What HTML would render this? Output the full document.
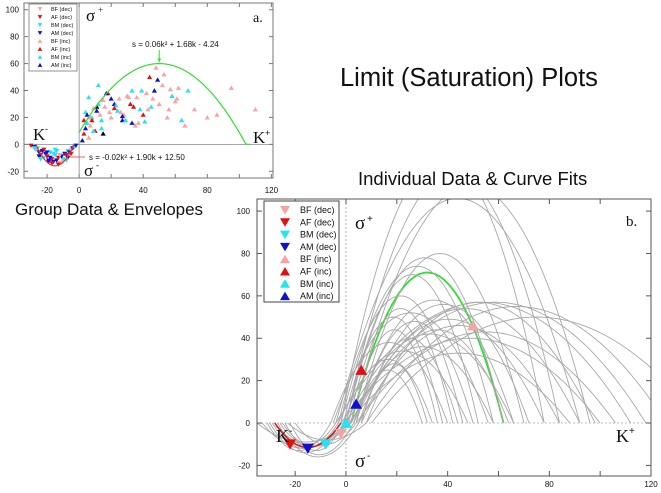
<!DOCTYPE html>
<html><head><meta charset="utf-8">
<style>
body{margin:0;background:#fff;width:661px;height:493px;overflow:hidden;font-family:"Liberation Sans",sans-serif}
svg{position:absolute;left:0;top:0}
.t{position:absolute;white-space:nowrap;color:#111}
</style></head><body>
<div class="t" style="left:340px;top:64px;font-size:25.5px;">Limit (Saturation) Plots</div>
<div class="t" style="left:358px;top:168px;font-size:18.5px;">Individual Data &amp; Curve Fits</div>
<div class="t" style="left:15px;top:200px;font-size:17px;">Group Data &amp; Envelopes</div>
<svg id="s" width="661" height="493"></svg>
<script>
// ---- Chart a data ----
const aTypes=["BF (dec)","AF (dec)","BM (dec)","AM (dec)","BF (inc)","AF (inc)","BM (inc)","AM (inc)"];
const aK=[-30,-28,-27,-26,-25,-24,-23,-22,-21,-20,-19,-18,-17,-16,-15,-14,-13,-12,-11,-10,-9,-8,-7,-6,-5,-4,-3,-2,-28,-25,-22,-19,-16,-13,-10,-7,-24,-20,-17,-14,-11,-8,-5,-18,-15,-12,
2,3,4,5,6,3,4,5,7,8,9,10,11,12,6,7,8,13,14,15,16,18,20,22,24,25,27,28,30,32,33,35,36,38,40,42,44,45,46,47,48,50,52,55,56,58,60,62,64,66,68,72,80,86,95,110,12,17,20,23,26,29,31,34,37,39,41,43,49,53,57,61,14,19,22,27,33,9,11,15];
const aS=[-1,-2,-4,-3,-6,-8,-5,-10,-7,-9,-12,-6,-11,-13,-8,-12,-10,-14,-9,-11,-7,-8,-5,-6,-4,-3,-2,-1,-3,-9,-4,-13,-7,-15,-13,-10,-11,-6,-14,-5,-9,-12,-7,-10,-4,-8,
3,8,12,16,5,18,24,22,14,20,27,10,25,30,35,20,18,22,12,33,28,38,20,30,25,34,18,22,36,30,40,14,35,26,22,38,50,28,34,40,57,30,44,20,26,36,32,42,18,14,40,26,20,22,42,26,44,38,34,29,24,18,35,28,16,40,17,26,48,52,41,34,18,24,27,21,16,10,28,8];
const aT=[1,3,0,2,3,1,3,2,3,1,3,2,1,3,2,3,1,0,3,2,3,1,2,3,0,3,2,3,2,3,1,3,2,1,0,3,2,3,1,2,3,2,1,3,2,0,
7,5,7,6,4,5,6,7,4,6,4,5,7,6,6,4,5,4,6,4,4,5,4,7,6,4,7,4,4,5,6,4,4,6,5,4,5,6,4,7,4,4,4,4,4,6,4,4,6,4,6,4,4,4,4,4,6,7,7,6,4,6,4,5,4,6,6,4,7,4,4,4,6,4,5,7,7,6];
// ---- Chart b data ----
const bArchLeft=[2,-2,0,2,-4,4,0,-2,0,-3,1,-1,2,3,5,-5,4,6,-6,8,0,2,-3,-1,3,5,2,6,-4,0,8,10,4,-2,1,6,3];
const bArchRight=[62,78,84,96,92,70,62,58,52,46,42,38,36,66,72,56,50,44,40,64,66,58,48,34,78,84,92,98,112,118,126,140,106,100,88,32,30];
const bArchPeak=[71,125,118,112,106,80,78,74,70,60,54,50,44,58,56,52,48,40,38,44,42,36,34,30,49,46,54,57,57,57,55,50,43,40,33,28,25];
const bTroughL=[-33,-30,-28,-26,-24,-35,-22,-27,-29,-25,-20,-31,-23];
const bTroughR=[0,-2,1,-4,3,2,-1,5,-3,0,4,-6,8];
const bTroughMin=[-12,-14,-11,-10,-15,-9,-13,-16,-12,-11,-10,-13,-8];
const bMarkK=[-22,-15,-8,-2,0,4,6,50];
const bMarkS=[-10,-12,-10,-5,0,9,25,46];
const bMarkT=[1,3,2,0,6,7,5,4];
const cols=["#f5a3a3","#e41010","#22e5ef","#1010d0","#f5a3a3","#e41010","#22e5ef","#1010d0"];

const NS="http://www.w3.org/2000/svg",svg=document.getElementById('s');
function mk(tag,at,parent){const e=document.createElementNS(NS,tag);for(const k in at)e.setAttribute(k,at[k]);(parent||svg).appendChild(e);return e;}
function txt(x,y,s,size,anchor,name,fam){const e=mk('text',{x:x,y:y,'font-size':size,'text-anchor':anchor||'start','font-family':fam||'"Liberation Sans",sans-serif',fill:'#111'});e.textContent=s;


return e;}
function tri(x,y,r,down,c,name){const p=down?`${x-r},${y-r*0.8} ${x+r},${y-r*0.8} ${x},${y+r*0.9}`:`${x-r},${y+r*0.8} ${x+r},${y+r*0.8} ${x},${y-r*0.9}`;const e=mk('polygon',{points:p,fill:c});


return e;}

// ===== Chart a =====
const A={l:24,r:273,t:3,b:178,x0:-34.4,x1:121,y0:-25,y1:105};
const ax=k=>A.l+(k-A.x0)/(A.x1-A.x0)*(A.r-A.l), ay=s=>A.b-(s-A.y0)/(A.y1-A.y0)*(A.b-A.t);
let fa=mk('rect',{x:A.l,y:A.t,width:A.r-A.l,height:A.b-A.t,fill:'none',stroke:'#777'});

mk('line',{x1:ax(0),x2:ax(0),y1:A.t,y2:A.b,stroke:'#888','stroke-width':0.8});
mk('line',{x1:A.l,x2:A.r,y1:ay(0),y2:ay(0),stroke:'#888','stroke-width':0.8});
[-20,0,20,40,60,80,100,120].forEach(v=>{mk('line',{x1:ax(v),x2:ax(v),y1:A.b,y2:A.b-4,stroke:'#777'});mk('line',{x1:ax(v),x2:ax(v),y1:A.t,y2:A.t+4,stroke:'#777'});});
[-20,0,20,40,60,80,100].forEach(v=>{mk('line',{x1:A.l,x2:A.l+4,y1:ay(v),y2:ay(v),stroke:'#777'});mk('line',{x1:A.r,x2:A.r-4,y1:ay(v),y2:ay(v),stroke:'#777'});txt(A.l-5,ay(v)+3,String(v),8,'end','chart-a-y-tick');});
[-20,0,40,80,120].forEach(v=>txt(ax(v),193,String(v),8,'middle','chart-a-x-tick'));
aK.forEach((k,i)=>{const t=aT[i];tri(ax(k),ay(aS[i]),2.6,t<4,cols[t],'chart-a-point');});
let d='';for(let k=0;k<=107;k+=1){const s=-0.0205*(k-50)*(k-50)+60;d+=(d?'L':'M')+ax(k).toFixed(1)+','+ay(Math.max(s,0)).toFixed(1);}
let g=mk('path',{d:d,fill:'none',stroke:'#33dd33','stroke-width':1.2});
d='';for(let k=-27;k<=-3;k+=0.5){const s=-16+16*Math.pow((k+15)/12,2);d+=(d?'L':'M')+ax(k).toFixed(1)+','+ay(Math.min(s,0)).toFixed(1);}
let rr=mk('path',{d:d,fill:'none',stroke:'#e03030','stroke-width':1.1});
mk('line',{x1:ax(50),x2:ax(50),y1:50,y2:ay(61),stroke:'#33dd33'});tri(ax(50),ay(61)-2,2,true,'#33dd33','eq-arrow-head');
mk('line',{x1:85,x2:ax(-8),y1:157,y2:157,stroke:'#e03030','stroke-width':0.7});
txt(132,47,'s = 0.06k² + 1.68k  - 4.24',8,'start','upper-equation');
txt(89,160,'s = -0.02k² + 1.90k + 12.50',8,'start','lower-equation');
txt(86,21,'σ',17,'start','sigma-plus-a','"Liberation Serif",serif');txt(98,13,'+',9,'start','sigma-plus-sup','"Liberation Serif",serif');
txt(84,176,'σ',17,'start','sigma-minus-a','"Liberation Serif",serif');txt(96,168,'-',9,'start','sigma-minus-sup','"Liberation Serif",serif');
txt(253,22,'a.',14,'start','panel-a-label','"Liberation Serif",serif');
txt(33,140,'K',17,'start','k-minus-a','"Liberation Serif",serif');txt(45,132,'-',9,'start','k-minus-sup');
txt(253,143,'K',17,'start','k-plus-a','"Liberation Serif",serif');txt(265,136,'+',9,'start','k-plus-sup');
let la=mk('rect',{x:29,y:4,width:48,height:67,fill:'#fff',stroke:'#666','stroke-width':0.7});
aTypes.forEach((n,i)=>{const y=11+i*8;tri(40,y-2,2.3,i<4,cols[i],'legend-a-marker');txt(51,y,n,5.5,'start','legend-a-entry');});

// ===== Chart b =====
const B={l:257,r:651,t:199,b:476,x0:-35,x1:120,y0:-25,y1:105.7};
const bx=k=>B.l+(k-B.x0)/(B.x1-B.x0)*(B.r-B.l), by=s=>B.b-(s-B.y0)/(B.y1-B.y0)*(B.b-B.t);
mk('clipPath',{id:'cb'});mk('rect',{x:B.l,y:B.t,width:B.r-B.l,height:B.b-B.t},svg.lastChild);
mk('line',{x1:bx(0),x2:bx(0),y1:B.t,y2:B.b,stroke:'#999','stroke-dasharray':'2,2','stroke-width':0.8});
mk('line',{x1:B.l,x2:B.r,y1:by(0),y2:by(0),stroke:'#aaa','stroke-dasharray':'2,2','stroke-width':0.8});
const gc=mk('g',{'clip-path':'url(#cb)'});
bArchLeft.forEach((L,i)=>{const R=bArchRight[i],h=bArchPeak[i],v=(L+R)/2,w=(R-L)/2;let p='';for(let j=0;j<=60;j++){const k=L+(R-L)*j/60;const s=h*(1-Math.pow((k-v)/w,2));p+=(p?'L':'M')+bx(k).toFixed(1)+','+by(s).toFixed(1);}
const e=mk('path',{d:p,fill:'none',stroke:'#a8a8a8','stroke-width':0.9},gc);


if(i===0){e.setAttribute('stroke','#33dd33');e.setAttribute('stroke-width','1.8');}});
bTroughL.forEach((L,i)=>{const R=bTroughR[i],m=bTroughMin[i],c=(L+R)/2,w=(R-L)/2;let p='';for(let j=0;j<=40;j++){const k=L+(R-L)*j/40;const s=m*(1-Math.pow((k-c)/w,2));p+=(p?'L':'M')+bx(k).toFixed(1)+','+by(s).toFixed(1);}
const e=mk('path',{d:p,fill:'none',stroke:'#a8a8a8','stroke-width':0.9},gc);

});
let rp='';for(let k=-28;k<=-2;k+=0.5){const s=-11.5*(1-Math.pow((k+15)/13,2));rp+=(rp?'L':'M')+bx(k).toFixed(1)+','+by(s).toFixed(1);}
let rc=mk('path',{d:rp,fill:'none',stroke:'#cc2020','stroke-width':1.6},gc);
bMarkK.forEach((k,i)=>{const t=bMarkT[i];tri(bx(k),by(bMarkS[i]),6,t<4,cols[t],'chart-b-marker');});
let fb=mk('rect',{x:B.l,y:B.t,width:B.r-B.l,height:B.b-B.t,fill:'none',stroke:'#555'});
[-20,0,20,40,60,80,100].forEach(v=>{mk('line',{x1:bx(v),x2:bx(v),y1:B.b,y2:B.b-5,stroke:'#555'});mk('line',{x1:bx(v),x2:bx(v),y1:B.t,y2:B.t+5,stroke:'#555'});});
[-20,0,40,80,120].forEach(v=>txt(bx(v),487,String(v),8,'middle','chart-b-x-tick'));
[-20,0,20,40,60,80,100].forEach(v=>{mk('line',{x1:B.l,x2:B.l+5,y1:by(v),y2:by(v),stroke:'#555'});mk('line',{x1:B.r,x2:B.r-5,y1:by(v),y2:by(v),stroke:'#555'});txt(B.l-7,by(v)+3,String(v),8,'end','chart-b-y-tick');});
txt(355,229,'σ',19,'start','sigma-plus-b','"Liberation Serif",serif');txt(367,222,'+',10,'start','sigma-plus-b-sup');
txt(355,467,'σ',19,'start','sigma-minus-b','"Liberation Serif",serif');txt(367,459,'-',10,'start','sigma-minus-b-sup');
txt(626,226,'b.',15,'start','panel-b-label','"Liberation Serif",serif');
txt(276,442,'K',18,'start','k-minus-b','"Liberation Serif",serif');txt(289,434,'-',10,'start','k-minus-b-sup');
txt(616,442,'K',18,'start','k-plus-b','"Liberation Serif",serif');txt(629,434,'+',10,'start','k-plus-b-sup');
let lb=mk('rect',{x:264,y:201,width:75,height:101,fill:'#fff',stroke:'#444','stroke-width':1});
aTypes.forEach((n,i)=>{const y=213+i*12.3;tri(285,y-3,5,i<4,cols[i],'legend-b-marker');txt(300,y,n,9,'start','legend-b-entry');});
</script>
</body></html>
